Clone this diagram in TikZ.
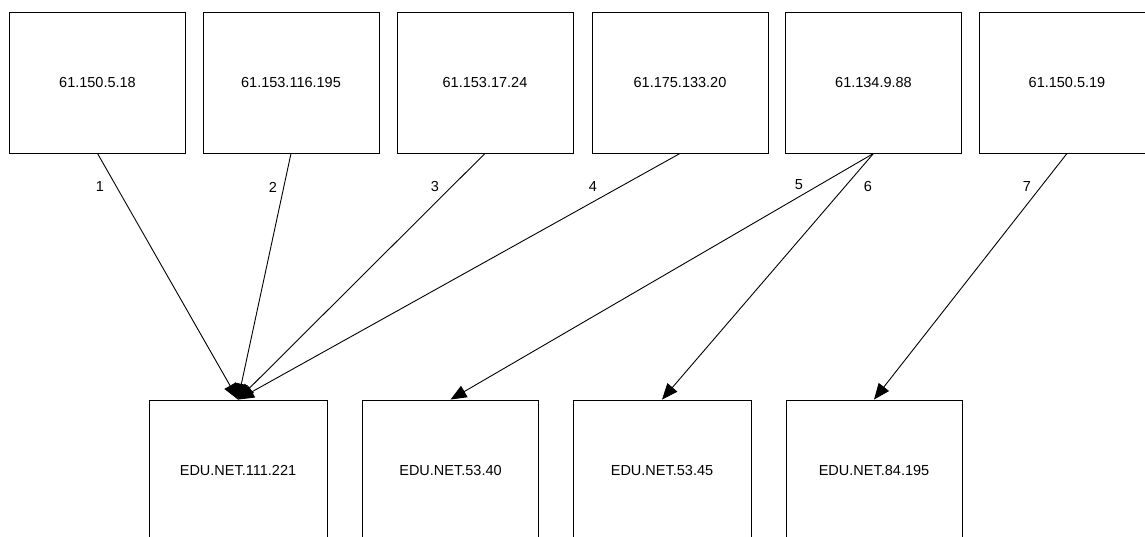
\documentclass[tikz,border=0pt]{standalone}
\usepackage{fontspec}
\setmainfont{Liberation Sans}
\usetikzlibrary{arrows.meta}
\begin{document}
\begin{tikzpicture}[x=1pt,y=-1pt,
  hostbox/.style={draw=black,line width=0.9pt,minimum width=176pt,minimum height=141pt,inner sep=0pt,font=\fontsize{14.5}{17}\selectfont},
  edgelbl/.style={inner sep=0pt,font=\fontsize{14.5}{17}\selectfont},
  link/.style={draw=black,line width=0.9pt,-{Triangle[length=16pt,width=13pt]}}]
\useasboundingbox (0,0) rectangle (1145,537);
\clip (0,0) rectangle (1145,537);
\node[hostbox] (t1) at (97.5,82.5) {61.150.5.18};
\node[hostbox] (t2) at (291,82.5) {61.153.116.195};
\node[hostbox] (t3) at (485,82.5) {61.153.17.24};
\node[hostbox] (t4) at (680,82.5) {61.175.133.20};
\node[hostbox] (t5) at (873.5,82.5) {61.134.9.88};
\node[hostbox] (t6) at (1067,82.5) {61.150.5.19};
\node[hostbox,minimum width=178pt] (b1) at (238,470.5) {EDU.NET.111.221};
\node[hostbox] (b2) at (450.5,470.5) {EDU.NET.53.40};
\node[hostbox,minimum width=178pt] (b3) at (662,470.5) {EDU.NET.53.45};
\node[hostbox] (b4) at (874,470.5) {EDU.NET.84.195};
\draw[link] (t1.south) -- (b1.north);
\draw[link] (t2.south) -- (b1.north);
\draw[link] (t3.south) -- (b1.north);
\draw[link] (t4.south) -- (b1.north);
\draw[link] (t5.south) -- (b2.north);
\draw[link] (t5.south) -- (b3.north);
\draw[link] (t6.south) -- (b4.north);
\node[edgelbl] (l1) at (100,187) {1};
\node[edgelbl] (l2) at (273,187) {2};
\node[edgelbl] (l3) at (435,187) {3};
\node[edgelbl] (l4) at (593,187) {4};
\node[edgelbl] (l5) at (799,185) {5};
\node[edgelbl] (l6) at (868,187) {6};
\node[edgelbl] (l7) at (1027,187) {7};
\end{tikzpicture}
\end{document}
